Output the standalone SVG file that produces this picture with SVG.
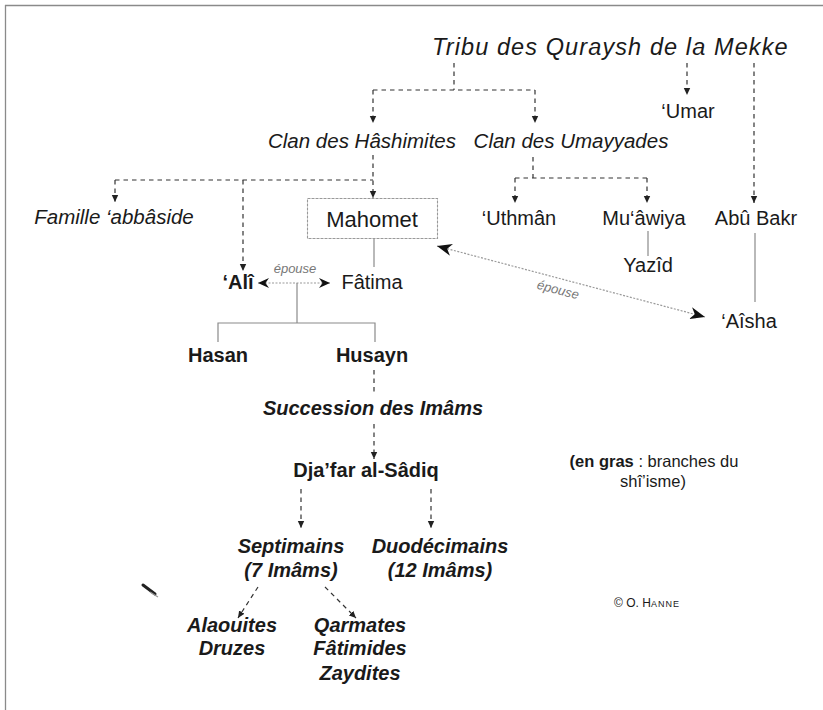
<svg xmlns="http://www.w3.org/2000/svg" width="823" height="710" viewBox="0 0 823 710">
<style>
text{font-family:"Liberation Sans",Arial,sans-serif;fill:#1a1a1a}
.it{font-style:italic}
.b{font-weight:bold}
.bi{font-weight:bold;font-style:italic}
.n{font-size:20px}
.clan{font-size:20.5px;font-style:italic}
.sm{font-size:13px;font-style:italic;fill:#777}
.dash{fill:none;stroke:#333;stroke-width:1.2;stroke-dasharray:4.5,4}
.solid{fill:none;stroke:#8a8a8a;stroke-width:1.2}
.dot{fill:none;stroke:#9a9a9a;stroke-width:1.2;stroke-dasharray:2,1.5}
</style>
<defs>
<marker id="ah" markerUnits="userSpaceOnUse" markerWidth="8" markerHeight="8" refX="7" refY="4" orient="auto">
<path d="M0,0.8 L7,4 L0,7.2 z" fill="#222"/>
</marker>
<marker id="ch" markerUnits="userSpaceOnUse" markerWidth="12" markerHeight="10" refX="11" refY="5" orient="auto-start-reverse">
<path d="M0,0 L11,5 L0,10 L3.5,5 z" fill="#111"/>
</marker>
<marker id="ch2" markerUnits="userSpaceOnUse" markerWidth="16" markerHeight="12" refX="15" refY="6" orient="auto-start-reverse">
<path d="M0,0 L15,6 L0,12 L4.5,6 z" fill="#111"/>
</marker>
</defs>
<rect width="823" height="710" fill="#fff"/>
<path d="M5,5.5 H823 M5.5,5 V710" stroke="#8a8a8a" stroke-width="1.3" fill="none"/>

<g id="connectors">
<path class="dash" d="M454,63 V90 M373,90 H535"/>
<path class="dash" d="M373,90 V123" marker-end="url(#ah)"/>
<path class="dash" d="M535,90 V123" marker-end="url(#ah)"/>
<path class="dash" d="M687,63 V95" marker-end="url(#ah)"/>
<path class="dash" d="M754,63 V203" marker-end="url(#ah)"/>
<path class="dash" d="M115,180 H373"/>
<path class="dash" d="M373,155 V198" marker-end="url(#ah)"/>
<path class="dash" d="M115,180 V202" marker-end="url(#ah)"/>
<path class="dash" d="M243,180 V271" marker-end="url(#ah)"/>
<path class="dash" d="M533,157 V178 M515,178 H647"/>
<path class="dash" d="M515,178 V203" marker-end="url(#ah)"/>
<path class="dash" d="M647,178 V203" marker-end="url(#ah)"/>
<path class="solid" d="M374,238 V267"/>
<path class="solid" d="M648,231 V256"/>
<path class="solid" d="M755,233 V302"/>
<path class="dot" d="M258,283 H330" marker-start="url(#ch)" marker-end="url(#ch)"/>
<path class="dot" d="M437,246 L705,317" marker-start="url(#ch2)" marker-end="url(#ch2)"/>
<path class="solid" d="M297,283 V323" stroke="#555"/>
<path class="solid" d="M218,342 V323 H375 V342"/>
<path class="dash" d="M374,370 V395"/>
<path class="dash" d="M374,424 V459" marker-end="url(#ah)"/>
<path class="dash" d="M301,489 V528" marker-end="url(#ah)"/>
<path class="dash" d="M431,489 V528" marker-end="url(#ah)"/>
<path class="dash" d="M258,587 L238,618" marker-end="url(#ah)"/>
<path class="dash" d="M325,587 L356,618" marker-end="url(#ah)"/>
</g>

<g id="tribu"><text x="432" y="55" class="it" font-size="23.5" letter-spacing="1.1">Tribu des Quraysh de la Mekke</text></g>
<g id="umar"><text x="688" y="118" text-anchor="middle" class="n">‘Umar</text></g>
<g id="hashimites"><text x="362" y="148" text-anchor="middle" class="clan">Clan des Hâshimites</text></g>
<g id="umayyades"><text x="571" y="148" text-anchor="middle" class="clan">Clan des Umayyades</text></g>
<g id="abbaside"><text x="114" y="224" text-anchor="middle" class="clan">Famille ‘abbâside</text></g>
<g id="mahomet"><rect x="307.5" y="198.5" width="130" height="40" fill="none" stroke="#999" stroke-width="1.1" stroke-dasharray="3,1"/><text x="372" y="227" text-anchor="middle" font-size="22">Mahomet</text></g>
<g id="uthman"><text x="519" y="225" text-anchor="middle" class="n">‘Uthmân</text></g>
<g id="muawiya"><text x="644" y="225" text-anchor="middle" class="n">Mu‘âwiya</text></g>
<g id="abubakr"><text x="756" y="225" text-anchor="middle" class="n">Abû Bakr</text></g>
<g id="yazid"><text x="648" y="272" text-anchor="middle" class="n">Yazîd</text></g>
<g id="aisha"><text x="749" y="328" text-anchor="middle" class="n">‘Aîsha</text></g>
<g id="epouse1"><text x="295" y="273" text-anchor="middle" class="sm">épouse</text></g>
<g id="epouse2"><text x="557" y="294" text-anchor="middle" class="sm" transform="rotate(14.7 557 294)">épouse</text></g>
<g id="ali"><text x="238" y="289" text-anchor="middle" class="b n">‘Alî</text></g>
<g id="fatima"><text x="372" y="289" text-anchor="middle" class="n">Fâtima</text></g>
<g id="hasan"><text x="218" y="362" text-anchor="middle" class="b n">Hasan</text></g>
<g id="husayn"><text x="372" y="362" text-anchor="middle" class="b n">Husayn</text></g>
<g id="succession"><text x="373" y="415" text-anchor="middle" class="bi n">Succession des Imâms</text></g>
<g id="djafar"><text x="366" y="477" text-anchor="middle" class="b n">Dja’far al-Sâdiq</text></g>
<g id="septimains"><text x="291" y="553" text-anchor="middle" class="bi n">Septimains</text><text x="291" y="577" text-anchor="middle" class="bi n">(7 Imâms)</text></g>
<g id="duodecimains"><text x="440" y="553" text-anchor="middle" class="bi n">Duodécimains</text><text x="440" y="577" text-anchor="middle" class="bi n">(12 Imâms)</text></g>
<g id="alaouites"><text x="232" y="632" text-anchor="middle" class="bi n">Alaouites</text><text x="232" y="655" text-anchor="middle" class="bi n">Druzes</text></g>
<g id="qarmates"><text x="360" y="632" text-anchor="middle" class="bi n">Qarmates</text><text x="360" y="655" text-anchor="middle" class="bi n">Fâtimides</text><text x="360" y="680" text-anchor="middle" class="bi n">Zaydites</text></g>
<g id="legende"><text x="654" y="467" text-anchor="middle" font-size="16.5"><tspan font-weight="bold">(en gras</tspan> : branches du</text><text x="653" y="487" text-anchor="middle" font-size="16.5">shî’isme)</text></g>
<g id="copyright"><text x="647" y="607" text-anchor="middle" font-size="12" fill="#333">© O. H<tspan font-size="9" letter-spacing="1">ANNE</tspan></text></g>
<path d="M143,585 L155,594" stroke="#222" stroke-width="3" stroke-linecap="round"/>
<path d="M150,592 L158,597" stroke="#999" stroke-width="1.2"/>
</svg>
